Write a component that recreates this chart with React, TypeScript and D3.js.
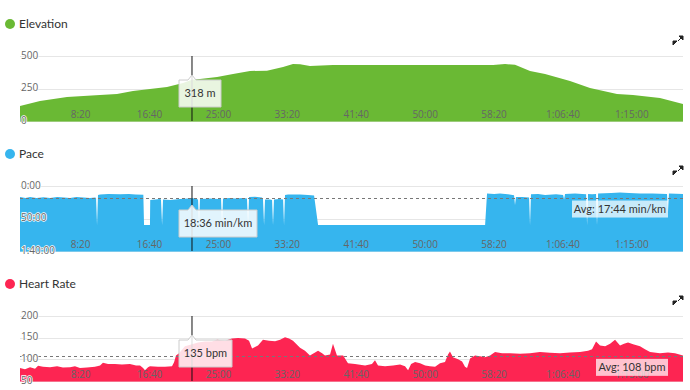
import React from 'react';
import * as d3 from 'd3';

// time (s) -> value
const elevation: [number, number][] = [
  [60, 115], [205, 154], [401, 185], [640, 200], [764, 208], [880, 231], [1003, 246],
  [1127, 262], [1243, 292], [1308, 318], [1366, 323], [1490, 338], [1606, 362],
  [1729, 385], [1852, 387], [1969, 415], [2041, 438], [2092, 437], [2164, 423],
  [2331, 430], [3493, 430], [3580, 438], [3652, 433], [3761, 385], [3870, 362],
  [4051, 308], [4196, 254], [4392, 208], [4508, 200], [4704, 177], [4871, 131],
];

// pace in seconds per km, 3600 = capped
const pace: [number, number][] = [
  [60, 1015], [100, 1108], [133, 1015], [180, 1108], [230, 1040], [278, 1108], [330, 1015],
  [380, 1060], [423, 1108], [470, 1015], [520, 1060], [568, 1108], [605, 1060], [612, 1100],
  [619, 3600], [626, 830], [641, 780], [700, 740], [786, 760], [850, 740], [900, 780],
  [955, 800], [960, 3600], [1003, 3600], [1005, 1292], [1040, 1250], [1076, 1200],
  [1083, 1250], [1091, 3600], [1098, 1250], [1150, 1292], [1221, 1200], [1280, 1150],
  [1308, 1116], [1340, 1200], [1352, 1250], [1359, 3600], [1366, 1200], [1439, 1150],
  [1500, 1200], [1519, 1200], [1526, 3600], [1533, 1150], [1580, 1100], [1620, 1150],
  [1680, 1100], [1707, 1150], [1715, 3600], [1722, 1015], [1765, 1000], [1815, 1060],
  [1823, 1150], [1831, 3600], [1838, 1250], [1874, 1250], [1889, 1292], [1896, 3600],
  [1903, 1250], [1940, 1200], [1969, 1250], [1976, 3600], [1983, 830], [2005, 780],
  [2092, 790], [2150, 820], [2194, 880], [2223, 3600], [3435, 3600], [3449, 690],
  [3500, 740], [3543, 700], [3600, 760], [3645, 850], [3652, 1754], [3659, 1015],
  [3703, 1015], [3754, 1060], [3761, 3600], [3768, 760], [3820, 740], [3870, 830],
  [3950, 760], [4001, 830], [4008, 1250], [4015, 740], [4088, 700], [4140, 740],
  [4168, 760], [4175, 3600], [4182, 740], [4211, 760], [4240, 740], [4247, 3600],
  [4255, 690], [4350, 650], [4414, 600], [4480, 650], [4559, 690], [4650, 700],
  [4755, 740], [4762, 2400], [4769, 700], [4871, 740],
];

const heartRate: [number, number][] = [
  [60, 80], [96, 77], [133, 82], [169, 78], [191, 85], [227, 83], [278, 82], [329, 84],
  [372, 81], [423, 82], [459, 84], [495, 80], [546, 81], [604, 83], [641, 86], [662, 92],
  [699, 89], [749, 89], [800, 88], [858, 89], [902, 86], [931, 86], [953, 80], [967, 75],
  [989, 82], [1003, 84], [1061, 83], [1112, 83], [1163, 84], [1178, 93], [1192, 109],
  [1214, 114], [1257, 130], [1308, 135], [1352, 139], [1403, 141], [1453, 141], [1490, 145],
  [1548, 143], [1598, 148], [1642, 149], [1693, 148], [1722, 143], [1744, 125], [1787, 132],
  [1823, 145], [1867, 143], [1911, 142], [1947, 145], [1983, 151], [2012, 148], [2041, 143],
  [2092, 127], [2128, 120], [2164, 109], [2201, 116], [2223, 120], [2252, 114], [2273, 109],
  [2310, 111], [2331, 136], [2360, 109], [2405, 109], [2440, 91], [2491, 89], [2564, 86],
  [2614, 89], [2636, 98], [2658, 86], [2709, 84], [2767, 86], [2818, 88], [2854, 84],
  [2876, 75], [2898, 89], [2927, 94], [2963, 91], [3000, 86], [3035, 84], [3072, 83],
  [3108, 91], [3144, 94], [3166, 111], [3180, 118], [3202, 105], [3239, 100], [3268, 95],
  [3289, 83], [3304, 80], [3326, 102], [3362, 109], [3398, 107], [3434, 105], [3471, 109],
  [3507, 117], [3558, 114], [3616, 114], [3689, 113], [3761, 114], [3833, 117], [3906, 115],
  [3979, 114], [4051, 116], [4124, 117], [4182, 120], [4211, 123], [4240, 141], [4269, 132],
  [4306, 130], [4342, 136], [4378, 145], [4414, 132], [4443, 136], [4472, 139], [4515, 134],
  [4559, 130], [4595, 123], [4632, 117], [4704, 114], [4762, 116], [4813, 114], [4871, 109],
];

const timeTicks = [500, 1000, 1500, 2000, 2500, 3000, 3500, 4000, 4500];
const elevationTicks = [0, 250, 500];
const paceTicks = [0, 3000, 6000];
const heartTicks = [50, 100, 150, 200];

const cursorTime = 1308;
const tooltipTexts = ['318 m', '18:36 min/km', '135 bpm'];
const avgPace = 1064;
const avgHeart = 108;

const fmtTime = (s: number) => {
  const h = Math.floor(s / 3600);
  const m = Math.floor((s % 3600) / 60);
  const sec = s % 60;
  const ss = String(sec).padStart(2, '0');
  return h > 0 ? `${h}:${String(m).padStart(2, '0')}:${ss}` : `${m}:${ss}`;
};

const FONT = '"Open Sans", sans-serif';
const LABEL_FONT = 'Lato, sans-serif';
const x = d3.scaleLinear().domain([60, 4871]).range([20, 683]);

interface PanelProps {
  top: number;
  title: string;
  color: string;
  data: [number, number][];
  domain: [number, number];
  ticks: number[];
  fmt: (v: number) => string;
  tip: string;
  tipW: number;
  avg?: { value: number; text: string; w: number; bg: string };
}

const Panel = ({ top, title, color, data, domain, ticks, fmt, tip, tipW, avg }: PanelProps) => {
  const plotTop = top + 56;
  const plotBottom = top + 121;
  const y = d3.scaleLinear().domain(domain).range([plotBottom, plotTop]);
  const area = d3.area<[number, number]>()
    .x((d) => x(d[0]))
    .y0(plotBottom)
    .y1((d) => y(d[1]));
  const cx = x(cursorTime);
  const ty = plotTop + 24;
  const tx = 179;
  const th = 27;
  const tipPath = `M${tx},${ty} H${cx - 4} L${cx},${ty - 5} L${cx + 4},${ty} H${tx + tipW} V${ty + th} H${tx} Z`;
  return (
    <g>
      <circle cx={10} cy={top + 24} r={5} fill={color} />
      <text x={19} y={top + 24} dy="0.35em" fontSize={12} fill="#333" fontFamily={LABEL_FONT}>{title}</text>
      {/* fullscreen icon */}
      <g fill="#222" stroke="#222" strokeWidth={1}>
        <path d={`M679,${top + 36} h4 v4 Z`} />
        <path d={`M673,${top + 45} v-4 h4 Z`} />
        <line x1={678} y1={top + 41} x2={681} y2={top + 38} />
        <line x1={674} y1={top + 44} x2={677} y2={top + 41} />
      </g>
      {ticks.map((t) => (
        <line key={t} x1={20} x2={683} y1={Math.round(y(t)) + 0.5} y2={Math.round(y(t)) + 0.5} stroke="#e6e6e6" />
      ))}
      <path d={area(data) ?? ''} fill={color} />
      <line x1={20} x2={683} y1={plotBottom + 0.5} y2={plotBottom + 0.5} stroke={color} strokeOpacity={0.6} />
      {avg && (
        <line x1={20} x2={683} y1={Math.round(y(avg.value)) + 0.5} y2={Math.round(y(avg.value)) + 0.5}
          stroke="#777" strokeDasharray="3,3" />
      )}
      {ticks.map((t) => (
        <text key={t} x={21} y={y(t) - 1} dy="0.35em" fontSize={10} fill="#666" fontFamily={FONT}
          stroke="#fff" strokeWidth={1.5} paintOrder="stroke">{fmt(t)}</text>
      ))}
      {timeTicks.map((t) => (
        <text key={t} x={x(t)} y={plotBottom - 7} dy="0.35em" textAnchor="middle" fontSize={10}
          fill="#666" fontFamily={FONT}>{fmtTime(t)}</text>
      ))}
      {avg && (
        <g>
          <rect x={668 - avg.w} y={y(avg.value) + 3} width={avg.w} height={17} fill={avg.bg} />
          <text x={668 - avg.w / 2} y={y(avg.value) + 11.5} dy="0.35em" textAnchor="middle" fontSize={11}
            fill="#333" fontFamily={LABEL_FONT}>{avg.text}</text>
        </g>
      )}
      <line x1={cx} x2={cx} y1={plotTop} y2={plotBottom} stroke="#111" strokeWidth={1} />
      <path d={tipPath} fill="#fff" fillOpacity={0.85} stroke="#ccc" strokeWidth={1} />
      <text x={tx + tipW / 2} y={ty + th / 2} dy="0.35em" textAnchor="middle" fontSize={11} fill="#333"
        fontFamily={LABEL_FONT}>{tip}</text>
    </g>
  );
};

const App = () => {
  return (
    <div style={{ position: 'absolute', left: 0, top: 0 }}>
      <svg width={690} height={390} style={{ display: 'block', background: '#fff' }}>
        <Panel top={0} title="Elevation" color="#6ab934" data={elevation} domain={[0, 500]}
          ticks={elevationTicks} fmt={(v) => String(v)} tip={tooltipTexts[0]} tipW={42} />
        <Panel top={130} title="Pace" color="#36b5ee" data={pace} domain={[6000, 0]}
          ticks={paceTicks} fmt={fmtTime} tip={tooltipTexts[1]} tipW={78}
          avg={{ value: avgPace, text: `Avg: ${fmtTime(avgPace)} min/km`, w: 96, bg: 'rgba(255,255,255,0.72)' }} />
        <Panel top={260} title="Heart Rate" color="#fd2552" data={heartRate} domain={[50, 200]}
          ticks={heartTicks} fmt={(v) => String(v)} tip={tooltipTexts[2]} tipW={53}
          avg={{ value: avgHeart, text: `Avg: ${avgHeart} bpm`, w: 72, bg: 'rgba(255,255,255,0.72)' }} />
      </svg>
    </div>
  );
};

export default App;
